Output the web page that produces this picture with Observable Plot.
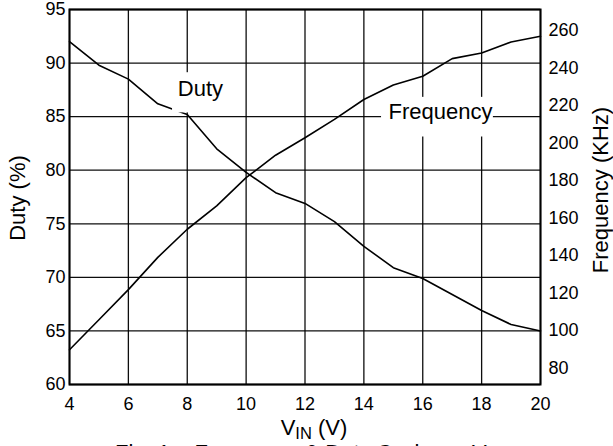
<!DOCTYPE html>
<html>
<head>
<meta charset="utf-8">
<script src="https://cdn.jsdelivr.net/npm/d3@7"></script>
<script src="https://cdn.jsdelivr.net/npm/@observablehq/plot@0.6"></script>
<style>
  html, body { margin: 0; padding: 0; background: #fff; overflow: hidden; }
  #wrap { position: relative; width: 613px; height: 446px; font-family: "Liberation Sans", Arial, sans-serif; }
  #caption { position: absolute; left: 115px; top: 442px; font-size: 22px; line-height: 22px; color: #000; white-space: nowrap; }
  #caption sub { font-size: 16px; vertical-align: -4px; line-height: 0; }
</style>
</head>
<body>
<div id="wrap">
  <div id="chart"></div>
  <div id="caption">Fig. 1 – Frequency &amp; Duty Cycle vs. V<sub>IN</sub></div>
</div>
<script>
// ---- data ----
const vin = [4, 5, 6, 7, 8, 9, 10, 11, 12, 13, 14, 15, 16, 17, 18, 19, 20];
const duty = [92.0, 89.8, 88.5, 86.2, 85.2, 82.0, 79.8, 77.9, 76.9, 75.2, 72.9, 70.9, 69.9, 68.4, 66.9, 65.6, 65.0];
const frequency = [89.7, 105.7, 121.8, 139.0, 154.0, 166.5, 181.5, 193.5, 202.8, 212.6, 223.2, 230.9, 235.6, 245.0, 248.0, 253.9, 256.9];
const xTicks = [4, 6, 8, 10, 12, 14, 16, 18, 20];
const dutyTicks = [60, 65, 70, 75, 80, 85, 90, 95];
const freqTicks = [80, 100, 120, 140, 160, 180, 200, 220, 240, 260];
const dutyDomain = [60, 95];
const freqDomain = [71.2, 271.2];
const curveLabels = [
  {text: "Duty", x: 8.45, y: 87.6, x1: 7.5, x2: 9.5, y1: 85.35, y2: 89.1},
  {text: "Frequency", x: 16.6, y: 85.4, x1: 14.6, x2: 18.4, y1: 83.1, y2: 86.8}
];

// map frequency onto the duty (left) scale
const toDuty = f => dutyDomain[0] + (f - freqDomain[0]) * (dutyDomain[1] - dutyDomain[0]) / (freqDomain[1] - freqDomain[0]);
const fromDuty = d => freqDomain[0] + (d - dutyDomain[0]) * (freqDomain[1] - freqDomain[0]) / (dutyDomain[1] - dutyDomain[0]);

const rows = vin.map((v, i) => ({v, duty: duty[i], freq: frequency[i]}));

const plot = Plot.plot({
  width: 613,
  height: 446,
  marginLeft: 69,
  marginRight: 73,
  marginTop: 9,
  marginBottom: 62,
  style: {fontFamily: "'Liberation Sans', Arial, sans-serif", fontSize: "18px", color: "#000", background: "#fff"},
  x: {domain: [4, 20]},
  y: {domain: dutyDomain},
  marks: [
    Plot.gridX(xTicks, {stroke: "#000", strokeOpacity: 0.95, strokeWidth: 1.3}),
    Plot.gridY(dutyTicks, {stroke: "#000", strokeOpacity: 0.95, strokeWidth: 1.3}),
    Plot.line(rows, {x: "v", y: "duty", stroke: "#000", strokeWidth: 1.6}),
    Plot.line(rows, {x: "v", y: d => toDuty(d.freq), stroke: "#000", strokeWidth: 1.6}),
    Plot.rect(curveLabels, {x1: "x1", x2: "x2", y1: "y1", y2: "y2", fill: "#fff"}),
    Plot.text(curveLabels, {x: "x", y: "y", text: "text", fontSize: 22, fill: "#000"}),
    Plot.frame({stroke: "#000", strokeWidth: 2}),
    Plot.axisX(xTicks, {tickSize: 0, tickPadding: 13, fontSize: 18, label: null}),
    Plot.axisY(dutyTicks, {anchor: "left", tickSize: 0, tickPadding: 4, fontSize: 18, label: null}),
    Plot.axisY(freqTicks.map(toDuty), {anchor: "right", tickSize: 0, tickPadding: 8, fontSize: 18, label: null,
      tickFormat: d => String(Math.round(fromDuty(d)))})
  ]
});
document.getElementById("chart").appendChild(plot);

const svg = d3.select(plot);
const font = "'Liberation Sans', Arial, sans-serif";
svg.append("text")
  .attr("transform", "translate(25,198) rotate(-90)")
  .attr("text-anchor", "middle").attr("font-size", 22).attr("font-family", font).attr("fill", "#000")
  .text("Duty (%)");
svg.append("text")
  .attr("transform", "translate(608,190) rotate(-90)")
  .attr("text-anchor", "middle").attr("font-size", 22).attr("font-family", font).attr("fill", "#000")
  .text("Frequency (KHz)");
const xl = svg.append("text")
  .attr("x", 314).attr("y", 435)
  .attr("text-anchor", "middle")
  .attr("font-size", 22).attr("font-family", font).attr("fill", "#000");
xl.append("tspan").text("V");
xl.append("tspan").attr("font-size", 16.5).attr("dy", 4).text("IN");
xl.append("tspan").attr("dy", -4).text(" (V)");
</script>
</body>
</html>
